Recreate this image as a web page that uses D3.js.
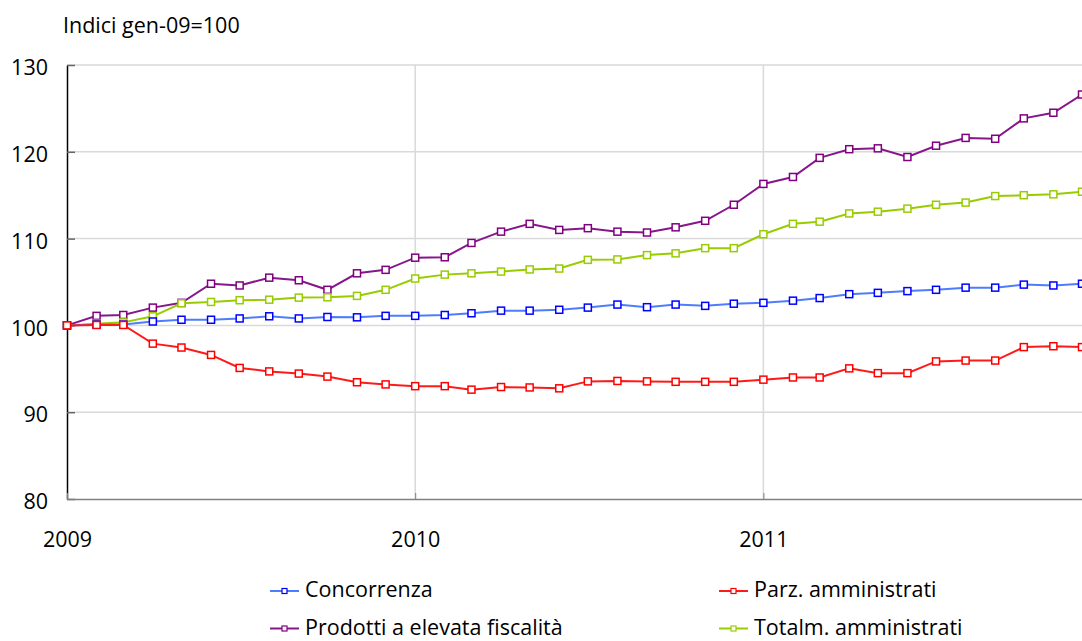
<!DOCTYPE html>
<html>
<head>
<meta charset="utf-8">
<script src="https://cdn.jsdelivr.net/npm/d3@7"></script>
<style>
  html, body { margin: 0; padding: 0; background: #fff; }
  svg { display: block; font-family: "Open Sans", "Noto Sans", sans-serif; }
</style>
</head>
<body>
<svg id="chart" width="1082" height="641"></svg>
<script>
// Monthly indices, January 2009 = 100
const months = d3.range(36).map(i => new Date(2009, i, 1));

const concorrenza = [100, 100.1, 100.1, 100.45, 100.65, 100.65, 100.8, 101.05, 100.8, 100.97, 100.93, 101.1,
  101.1, 101.2, 101.4, 101.7, 101.7, 101.8, 102.05, 102.4, 102.1, 102.4, 102.25, 102.5,
  102.6, 102.85, 103.15, 103.6, 103.75, 103.95, 104.1, 104.35, 104.35, 104.7, 104.6, 104.8];

const parzAmministrati = [100, 100.05, 100.05, 97.9, 97.45, 96.6, 95.1, 94.7, 94.45, 94.1, 93.45, 93.2,
  93.0, 93.0, 92.6, 92.9, 92.85, 92.75, 93.55, 93.6, 93.55, 93.5, 93.5, 93.5,
  93.75, 94.0, 94.0, 95.05, 94.5, 94.5, 95.85, 95.95, 95.95, 97.5, 97.6, 97.5];

const elevataFiscalita = [100, 101.1, 101.2, 102.05, 102.6, 104.8, 104.6, 105.5, 105.2, 104.1, 106.0, 106.4,
  107.8, 107.85, 109.5, 110.8, 111.7, 111.0, 111.2, 110.8, 110.7, 111.3, 112.05, 113.9,
  116.3, 117.1, 119.3, 120.3, 120.4, 119.4, 120.7, 121.6, 121.5, 123.85, 124.5, 126.6];

const totalmAmministrati = [100, 100.2, 100.35, 101.05, 102.55, 102.7, 102.9, 102.96, 103.2, 103.24, 103.4, 104.1,
  105.4, 105.85, 106.0, 106.2, 106.45, 106.55, 107.55, 107.6, 108.1, 108.3, 108.9, 108.9,
  110.5, 111.7, 111.95, 112.9, 113.1, 113.45, 113.9, 114.15, 114.9, 115.0, 115.1, 115.4];

const yTicks = [80, 90, 100, 110, 120, 130];
const xTicks = [new Date(2009, 0, 1), new Date(2010, 0, 1), new Date(2011, 0, 1)];
const unitLabel = "Indici gen-09=100";

const series = [
  { name: "Concorrenza", values: concorrenza, line: "#4f7cff", mark: "#0000ff" },
  { name: "Parz. amministrati", values: parzAmministrati, line: "#ff1a1a", mark: "#ff0000" },
  { name: "Prodotti a elevata fiscalità", values: elevataFiscalita, line: "#87168a", mark: "#800080" },
  { name: "Totalm. amministrati", values: totalmAmministrati, line: "#99cc00", mark: "#99cc00" }
];

const svg = d3.select("#chart");
const plot = { left: 67, right: 1082, top: 65, bottom: 499 };
const fontSize = 21.5;

const x = d3.scaleTime()
  .domain([months[0], months[35]])
  .range([plot.left, plot.right]);
const y = d3.scaleLinear()
  .domain([80, 130])
  .range([plot.bottom, plot.top]);

// horizontal gridlines
svg.append("g").selectAll("line").data(yTicks.filter(t => t !== 80)).join("line")
  .attr("x1", plot.left).attr("x2", plot.right)
  .attr("y1", d => y(d)).attr("y2", d => y(d))
  .attr("stroke", "#d9d9d9").attr("stroke-width", 1.5);

// vertical gridlines at year starts
svg.append("g").selectAll("line").data(xTicks.slice(1)).join("line")
  .attr("x1", d => x(d)).attr("x2", d => x(d))
  .attr("y1", plot.top).attr("y2", plot.bottom)
  .attr("stroke", "#d9d9d9").attr("stroke-width", 1.5);

// y axis
const yAxis = svg.append("g")
  .attr("transform", `translate(${plot.left},0)`)
  .call(d3.axisLeft(y).tickValues(yTicks).tickSizeInner(-8).tickSizeOuter(0)
    .tickPadding(19).tickFormat(d3.format("d")));
yAxis.select(".domain").attr("stroke", "#000").attr("stroke-width", 1.5);
yAxis.selectAll(".tick line").attr("stroke", "#666").attr("stroke-width", 1.5);
yAxis.selectAll("text").attr("font-size", fontSize).attr("fill", "#000").attr("dy", "0.45em")
  .attr("font-family", "'Open Sans', sans-serif");

// x axis
const xAxis = svg.append("g")
  .attr("transform", `translate(0,${plot.bottom})`)
  .call(d3.axisBottom(x).tickValues(xTicks).tickSizeInner(-6).tickSizeOuter(0)
    .tickPadding(33).tickFormat(d3.timeFormat("%Y")));
xAxis.select(".domain").attr("stroke", "#808080").attr("stroke-width", 1.5);
xAxis.selectAll(".tick line").attr("stroke", "#808080").attr("stroke-width", 1);
xAxis.selectAll("text").attr("font-size", fontSize).attr("fill", "#000")
  .attr("font-family", "'Open Sans', sans-serif");

// unit label
svg.append("text")
  .attr("x", 63).attr("y", 33)
  .attr("font-size", fontSize).attr("fill", "#000")
  .text(unitLabel);

// series lines and markers
const line = d3.line().x((d, i) => x(months[i])).y(d => y(d));
const drawOrder = [2, 3, 0, 1];
drawOrder.forEach(k => {
  const s = series[k];
  svg.append("path")
    .datum(s.values)
    .attr("fill", "none")
    .attr("stroke", s.line)
    .attr("stroke-width", 2)
    .attr("d", line);
  svg.append("g").selectAll("rect").data(s.values).join("rect")
    .attr("x", (d, i) => x(months[i]) - 3.5)
    .attr("y", d => y(d) - 3.5)
    .attr("width", 7).attr("height", 7)
    .attr("fill", "#fff")
    .attr("stroke", s.mark)
    .attr("stroke-width", 1.5);
});

// legend
const legendPos = [
  { x: 270, y: 591 }, { x: 719, y: 591 },
  { x: 270, y: 628.5 }, { x: 719, y: 628.5 }
];
series.forEach((s, k) => {
  const p = legendPos[k];
  const g = svg.append("g").attr("transform", `translate(${p.x},${p.y})`);
  g.append("line").attr("x1", 0).attr("x2", 29).attr("y1", 0).attr("y2", 0)
    .attr("stroke", s.line).attr("stroke-width", 2);
  g.append("rect").attr("x", 12).attr("y", -2.5).attr("width", 5).attr("height", 5)
    .attr("fill", "#fff").attr("stroke", s.mark).attr("stroke-width", 1.2);
  g.append("text").attr("x", 35).attr("y", 6)
    .attr("font-size", fontSize).attr("fill", "#000")
    .text(s.name);
});
</script>
</body>
</html>
